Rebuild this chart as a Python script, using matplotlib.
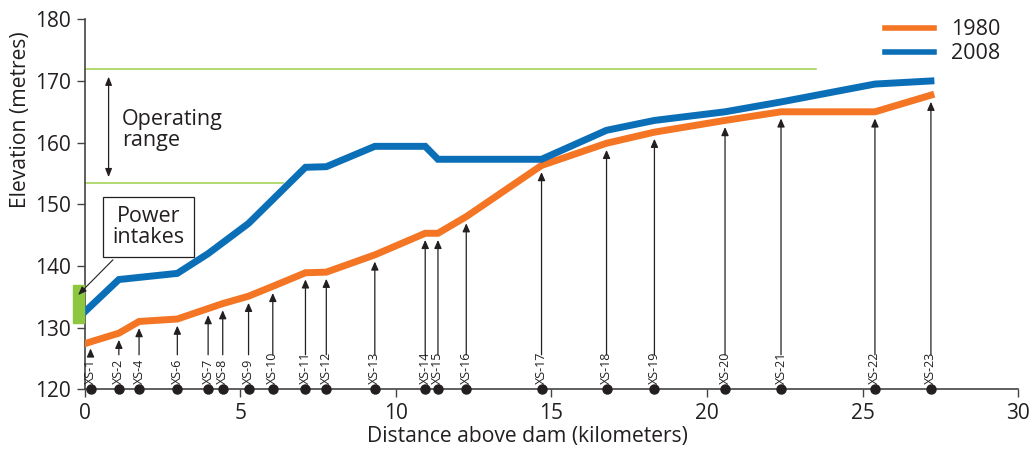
import matplotlib.pyplot as plt

plt.rcParams['font.family'] = ['Open Sans', 'DejaVu Sans']

# cross sections along the reservoir (km above dam)
xs_names = ['XS-1', 'XS-2', 'XS-4', 'XS-6', 'XS-7', 'XS-8', 'XS-9', 'XS-10',
            'XS-11', 'XS-12', 'XS-13', 'XS-14', 'XS-15', 'XS-16', 'XS-17',
            'XS-18', 'XS-19', 'XS-20', 'XS-21', 'XS-22', 'XS-23']
xs_km = [0.18, 1.09, 1.74, 2.97, 3.96, 4.43, 5.26, 6.04, 7.09, 7.76, 9.32,
         10.94, 11.35, 12.26, 14.68, 16.77, 18.31, 20.58, 22.38, 25.40, 27.20]

# bed elevation in 1980, at the dam and at each cross section
elev_dam_1980 = 127.4
elev_1980 = [127.7, 129.1, 131.0, 131.4, 133.1, 133.9, 135.1, 136.7, 138.9,
             139.0, 141.8, 145.3, 145.3, 148.0, 156.3, 159.9, 161.7, 163.6,
             165.0, 165.0, 167.7]

# bed elevation in 2008
dist_2008 = [0, 1.09, 2.97, 3.96, 5.26, 7.09, 7.76, 9.32, 10.94, 11.35,
             14.68, 16.77, 18.31, 20.58, 22.38, 25.40, 27.20]
elev_2008 = [132.6, 137.8, 138.8, 142.0, 146.9, 156.0, 156.1, 159.4, 159.4,
             157.3, 157.3, 162.0, 163.6, 165.0, 166.6, 169.5, 170.0]

# reservoir operating levels and power intake band
op_high, op_low = 172.0, 153.4
op_high_end, op_low_end = 23.5, 6.38
intake_low, intake_high = 130.7, 136.9

orange = '#f47523'
blue = '#0b6fb8'
green = '#9ccf4a'
dark = '#231f20'

fig = plt.figure(figsize=(10.31, 4.53), dpi=100)
ax = fig.add_axes([0.0824, 0.1406, 0.905, 0.8168])

ax.plot([0, op_high_end], [op_high, op_high], c=green, lw=1.1)
ax.plot([0, op_low_end], [op_low, op_low], c=green, lw=1.1)

ax.plot([0] + xs_km, [elev_dam_1980] + elev_1980, c=orange, lw=5,
        solid_joinstyle='miter', label='1980', zorder=3)
ax.plot(dist_2008, elev_2008, c=blue, lw=5, solid_joinstyle='miter',
        label='2008', zorder=3)

# cross section markers, labels and arrows up to the 1980 bed
ax.plot(xs_km, [120] * len(xs_km), 'o', c=dark, ms=6.5, clip_on=False, zorder=5)
for name, x, y in zip(xs_names, xs_km, elev_1980):
    ax.text(x, 120.9, name, rotation=90, ha='center', va='bottom',
            fontsize=9, color=dark,
            family=['Liberation Sans Narrow', 'Open Sans', 'DejaVu Sans'])
    ax.annotate('', xy=(x, y), xytext=(x, 125.6),
                arrowprops=dict(arrowstyle='-|>,head_length=0.5,head_width=0.22',
                                mutation_scale=10, lw=0.9, color=dark,
                                shrinkA=0, shrinkB=4.8))

# operating range
ax.annotate('', xy=(0.76, 154.4), xytext=(0.76, 170.7),
            arrowprops=dict(arrowstyle='<|-|>,head_length=0.5,head_width=0.2',
                            mutation_scale=10, lw=0.9, color=dark,
                            shrinkA=0, shrinkB=0))
ax.text(1.18, 162.0, 'Operating\nrange', ha='left', va='center',
        fontsize=15.5, color=dark, linespacing=1.0)

# power intakes
ax.add_patch(plt.Rectangle((-0.38, intake_low), 0.35, intake_high - intake_low,
                           color='#8dc63f', clip_on=False, zorder=4))
ax.text(2.04, 146.3, 'Power\nintakes', ha='center', va='center', fontsize=15.5,
        color=dark, linespacing=1.0,
        bbox=dict(boxstyle='square,pad=0.42', fc='white', ec=dark, lw=0.9))
ax.annotate('', xy=(-0.22, 135.3), xytext=(0.9, 141.0),
            arrowprops=dict(arrowstyle='-|>,head_length=0.5,head_width=0.2',
                            mutation_scale=10, lw=0.8, color=dark,
                            shrinkA=0, shrinkB=0),
            annotation_clip=False, zorder=6)

ax.set_xlim(0, 30)
ax.set_ylim(120, 180)
ax.set_xticks(range(0, 31, 5))
ax.set_yticks(range(120, 181, 10))
for side in ['top', 'right']:
    ax.spines[side].set_visible(False)
for side in ['left', 'bottom']:
    ax.spines[side].set_color('#444444')
    ax.spines[side].set_linewidth(1.2)
ax.tick_params(direction='out', length=6, width=1, colors='#444444',
               labelcolor=dark, labelsize=15, pad=4)

ax.set_xlabel('Distance above dam (kilometers)', fontsize=15.2, color=dark)
ax.set_ylabel('Elevation (metres)', fontsize=15.2, color=dark)
ax.xaxis.set_label_coords(0.474, -0.1)
ax.yaxis.set_label_coords(-0.058, 0.73)

leg = fig.legend(loc='upper left', bbox_to_anchor=(0.858, 0.957),
                 frameon=False, fontsize=15.5, handlelength=2.3,
                 handletextpad=0.8, labelspacing=0.12, borderpad=0,
                 borderaxespad=0)
for line in leg.get_lines():
    line.set_linewidth(4)
for t in leg.get_texts():
    t.set_color(dark)

fig.savefig('out.png', dpi=100)
